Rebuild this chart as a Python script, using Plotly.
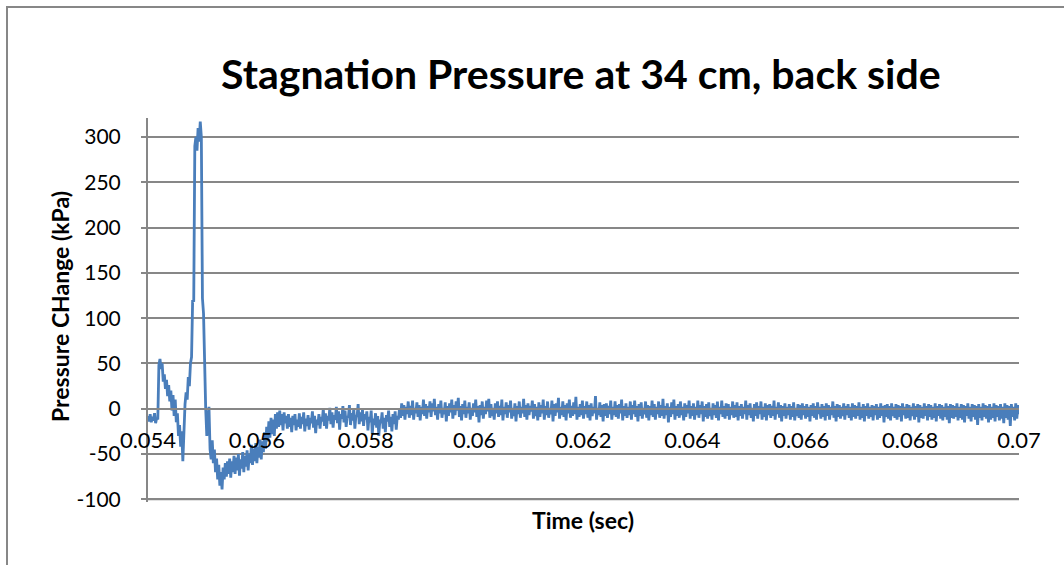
import plotly.graph_objects as go

# Sampling of the recorded signal
T0 = 0.054      # s, first sample
DT = 0.00002    # s, sample interval

# Pressure change (kPa), one value per sample
pressure = [
    -8, -14, -6, -15, -9, -13, -5, -16, -10, -12,
    48, 55, 44, 50, 30, 38, 22, 32, 14, 26,
    8, 20, -2, 15, -8, 10, -15, -5, -30, -18,
    -42, -25, -58, -20, 5, 18, 10, 35, 25, 50,
    57, 120, 118, 290, 300, 285, 310, 295, 317, 300,
    122, 105, 40, 0, -30, -10, 2, -45, -56, -35,
    -60, -45, -70, -55, -78, -62, -85, -70, -89, -65,
    -78, -60, -75, -58, -72, -55, -76, -58, -70, -52,
    -72, -54, -68, -50, -74, -56, -66, -48, -70, -52,
    -64, -46, -68, -50, -60, -40, -62, -44, -58, -38,
    -60, -42, -54, -34, -56, -36, -48, -26, -44, -20,
    -36, -14, -32, -10, -28, -12, -30, -6, -22, -4,
    -20, -2, -18, -6, -24, -4, -16, -8, -22, -6,
    -20, -10, -26, -8, -18, -6, -24, -12, -20, -5,
    -22, -9, -17, -4, -25, -11, -19, -7, -23, -10,
    -16, -3, -21, -8, -27, -12, -18, -6, -22, -9,
    -14, 0, -19, -5, -22, -8, -13, 1, -17, -4,
    -21, -7, -12, 2, -16, -3, -23, -6, -11, 3,
    -15, -2, -20, -8, -10, 4, -18, -5, -13, 0,
    -22, -7, -9, 5, -17, -4, -14, -1, -19, -6,
    -12, -3, -24, -9, -15, -2, -28, -11, -18, -5,
    -21, -8, -30, -12, -16, -4, -22, -10, -26, -7,
    -14, -2, -20, -9, -25, -6, -17, -3, -23, -8,
    -12, 0, -10, 6, -8, 4, -12, 2, -6, 8,
    -10, 3, -7, 9, -12, 1, -5, 7, -9, 4,
    -13, 2, -6, 10, -8, 5, -11, 3, -4, 8,
    -9, 6, -3, 11, -7, 2, -12, 5, -5, 9, -10, 1, -6, 7, -14, 3, -8, 6, -4, 10,
    -11, 4, -7, 8, -2, 12, -9, 3, -13, 5, -6, 9, -10, 2, -5, 7, -12, 1, -8, 6,
    -4, 10, -9, 3, -15, 4, -7, 8, -11, 2, -6, 9, -3, 11, -10, 5, -8, 1, -12, 6,
    -5, 8, -9, 3, -7, 10, -13, 2, -6, 7, -10, 4, -4, 9, -11, 1, -8, 6, -14, 3,
    -6, 8, -10, 2, -5, 11, -9, 4, -12, 6, -7, 3, -3, 9, -11, 5, -8, 2, -13, 7,
    -9, 4, -5, 10, -12, 3, -7, 8, -10, 1, -6, 9, -14, 5, -8, 6, -4, 12, -11, 2,
    -7, 8, -9, 4, -13, 6, -5, 10, -10, 3, -8, 7, -6, 13, -12, 2, -9, 5, -7, 9,
    -11, 3, -6, 8, -10, 4, -13, 6, -8, 2, -5, 14, -12, 1, -7, 7, -9, 4, -14, 5,
    -8, 6, -10, 3, -6, 9, -12, 2, -7, 8, -9, 4, -11, 5, -5, 10, -13, 3, -8, 6,
    -10, 2, -7, 8, -12, 4, -6, 9, -9, 3, -14, 5, -8, 7, -11, 1, -6, 8, -10, 4,
    -13, 3, -7, 9, -9, 5, -12, 2, -6, 8, -10, 4, -8, 11, -11, 3, -7, 6, -15, 2,
    -9, 7, -6, 10, -12, 3, -8, 5, -10, 8, -7, 2, -13, 6, -9, 4, -5, 9, -11, 3,
    -8, 6, -12, 2, -7, 9, -10, 4, -6, 8, -14, 3, -9, 5, -11, 7, -8, 1, -12, 6,
    -7, 4, -10, 8, -13, 2, -6, 9, -9, 3, -11, 6, -8, 5, -12, 2, -7, 8, -10, 4,
    -9, 7, -13, 3, -8, 5, -11, 2, -6, 9, -12, 4, -7, 6, -10, 1, -14, 5, -8, 7,
    -11, 3, -6, 8, -12, 2, -9, 6, -13, 4, -7, 5, -10, 3, -8, 9, -12, 2, -6, 7,
    -10, 4, -14, 3, -8, 6, -11, 2, -7, 5, -12, 3, -9, 7, -13, 1, -8, 5, -10, 4,
    -12, 6, -7, 3, -11, 5, -9, 2, -14, 4, -8, 6, -10, 3, -12, 7, -6, 2, -11, 5,
    -9, 3, -13, 6, -8, 4, -12, 2, -7, 8, -10, 3, -14, 5, -9, 4, -11, 2, -8, 6,
    -12, 3, -7, 5, -10, 2, -13, 6, -9, 4, -11, 3, -8, 7, -12, 2, -10, 5, -14, 3,
    -8, 6, -11, 2, -9, 4, -13, 3, -7, 5, -12, 2, -10, 6, -8, 3, -15, 4, -9, 5,
    -11, 3, -13, 6, -8, 2, -10, 5, -12, 4, -9, 3, -14, 6, -7, 2, -11, 5, -10, 4,
    -13, 2, -8, 6, -12, 3, -9, 5, -15, 4, -10, 2, -11, 6, -8, 3, -13, 5, -9, 4,
    -12, 2, -10, 6, -14, 3, -8, 5, -11, 4, -13, 2, -9, 6, -12, 3, -16, 5, -10, 4,
    -11, 3, -9, 6, -13, 2, -10, 5, -12, 4, -15, 3, -8, 6, -11, 2, -14, 5, -9, 4,
    -12, 3, -18, 5, -10, 2, -13, 6, -9, 4, -11, 3, -15, 5, -12, 2, -10, 6, -14, 4,
    -9, 3, -13, 5, -11, 2, -16, 6, -10, 4, -12, 3, -19, 5, -9, 2, -13, 6, -11, 4,
    -6,
]
time = [T0 + DT * i for i in range(len(pressure))]

x_ticks = [0.054, 0.056, 0.058, 0.060, 0.062, 0.064, 0.066, 0.068, 0.070]
x_tick_labels = ["0.054", "0.056", "0.058", "0.06", "0.062", "0.064", "0.066", "0.068", "0.07"]
y_ticks = [-100, -50, 0, 50, 100, 150, 200, 250, 300]
y_tick_labels = ["-100", "-50", "0", "50", "100", "150", "200", "250", "300"]

TITLE = "Stagnation Pressure at 34 cm, back side"
X_TITLE = "Time (sec)"
Y_TITLE = "Pressure CHange (kPa)"

GRAY = "#878787"
FONT = "Lato"
Y_MIN, Y_MAX = -103, 321

fig = go.Figure()
fig.add_trace(go.Scatter(
    x=time, y=pressure, mode="lines",
    line=dict(color="#4a7ebb", width=2.8),
    showlegend=False,
))

fig.update_layout(
    width=1064, height=565, autosize=False,
    margin=dict(l=148, r=45, t=118, b=63, pad=0),
    paper_bgcolor="white", plot_bgcolor="white",
    font=dict(family=FONT, color="black"),
    title=dict(text="<b>" + TITLE + "</b>", font=dict(family=FONT, size=41, color="black"),
               x=0.497, xref="paper", xanchor="center",
               y=1 - 75 / 565, yref="container", yanchor="middle"),
    xaxis=dict(
        range=[0.054, 0.070], tickvals=x_ticks, ticktext=x_tick_labels,
        showgrid=False, zeroline=False,
        showline=True, linecolor=GRAY, linewidth=2,
        ticks="", tickfont=dict(family=FONT, size=22, color="black"),
        anchor="free", position=(0 - Y_MIN) / (Y_MAX - Y_MIN),
        ticklabelstandoff=12,
    ),
    yaxis=dict(
        range=[Y_MIN, Y_MAX], tickvals=y_ticks, ticktext=y_tick_labels,
        showgrid=True, gridcolor=GRAY, gridwidth=2, zeroline=False,
        showline=True, linecolor=GRAY, linewidth=2,
        ticks="outside", ticklen=5, tickcolor=GRAY, tickwidth=2,
        tickfont=dict(family=FONT, size=21, color="black"),
        ticklabelstandoff=16,
    ),
    annotations=[
        dict(text="<b>" + X_TITLE + "</b>", xref="paper", yref="paper",
             x=(583 - 148) / 871, y=(502 - 520) / 384, xanchor="center", yanchor="middle",
             showarrow=False, font=dict(family=FONT, size=23, color="black")),
        dict(text="<b>" + Y_TITLE + "</b>", xref="paper", yref="paper",
             x=(60 - 148) / 871, y=(502 - 307) / 384, xanchor="center", yanchor="middle",
             textangle=-90, showarrow=False, font=dict(family=FONT, size=23, color="black")),
    ],
    shapes=[
        dict(type="rect", xref="paper", yref="paper",
             x0=(7 - 148) / 871, x1=(1080 - 148) / 871,
             y0=(502 - 580) / 384, y1=(502 - 7) / 384,
             line=dict(color=GRAY, width=2), fillcolor="rgba(0,0,0,0)", layer="below"),
        dict(type="line", xref="paper", yref="y", x0=0, x1=1, y0=y_ticks[0], y1=y_ticks[0],
             line=dict(color=GRAY, width=2), layer="below"),
    ],
)

fig.write_html("out.html", config={"displayModeBar": False},
               post_script="document.body.style.margin='0';")
